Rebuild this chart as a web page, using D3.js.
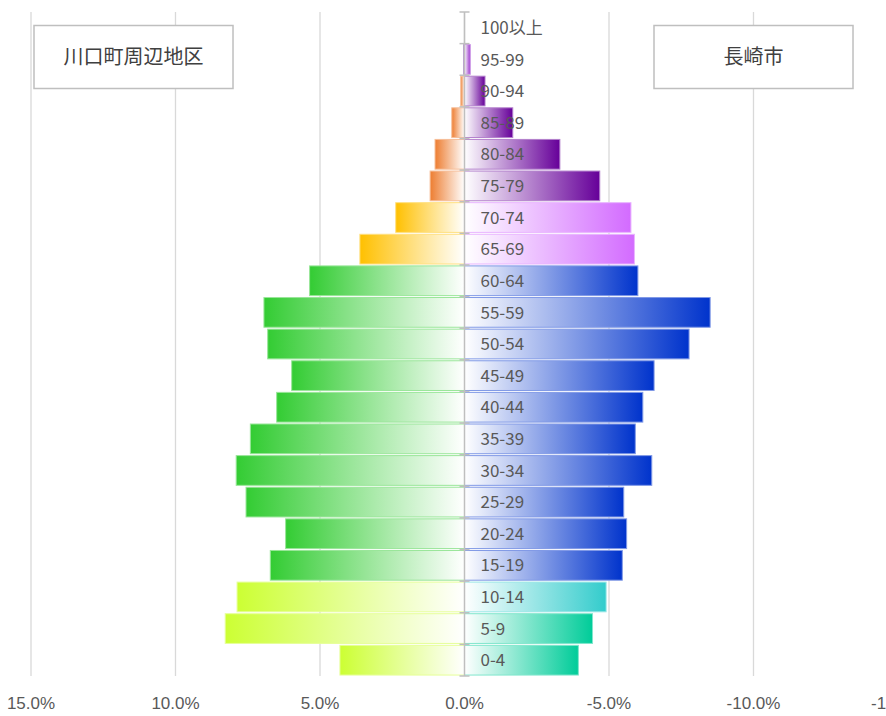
<!DOCTYPE html>
<html>
<head>
<meta charset="utf-8">
<script src="https://cdn.jsdelivr.net/npm/d3@7"></script>
<style>
	body { margin: 0; background: #fff; }
	svg { display: block; }
</style>
</head>
<body>
<div id="chart"></div>
<script>
// age groups, top to bottom
var ages = ['100以上', '95-99', '90-94', '85-89', '80-84', '75-79', '70-74', '65-69',
	'60-64', '55-59', '50-54', '45-49', '40-44', '35-39', '30-34', '25-29',
	'20-24', '15-19', '10-14', '5-9', '0-4'];

// share of population (%)
var kawaguchi = [0, 0.03, 0.13, 0.44, 1.02, 1.19, 2.38, 3.62,
	5.36, 6.94, 6.81, 5.98, 6.50, 7.41, 7.90, 7.56,
	6.19, 6.72, 7.87, 8.28, 4.31];
var nagasaki = [0, 0.2, 0.71, 1.67, 3.30, 4.68, 5.76, 5.88,
	6.0, 8.5, 7.77, 6.56, 6.17, 5.91, 6.48, 5.51,
	5.61, 5.46, 4.90, 4.43, 3.94];

var kawaguchiColors = ['#7030a0', '#7030a0', '#ed7d31', '#ed7d31', '#ed7d31', '#ed7d31', '#ffc000', '#ffc000',
	'#33cc33', '#33cc33', '#33cc33', '#33cc33', '#33cc33', '#33cc33', '#33cc33', '#33cc33',
	'#33cc33', '#33cc33', '#ccff33', '#ccff33', '#ccff33'];
var nagasakiColors = ['#660099', '#9933cc', '#660099', '#660099', '#660099', '#660099', '#d36bff', '#d36bff',
	'#0033cc', '#0033cc', '#0033cc', '#0033cc', '#0033cc', '#0033cc', '#0033cc', '#0033cc',
	'#0033cc', '#0033cc', '#33cccc', '#00cc99', '#00cc99'];

var ticks = [15, 10, 5, 0, -5, -10, -15];

var width = 886, height = 716;
var plotTop = 12, plotBottom = 676;

var svg = d3.select('#chart').append('svg')
	.attr('width', width)
	.attr('height', height);

var defs = svg.append('defs');

var x = d3.scaleLinear()
	.domain([15, -15])
	.range([31, 898]);

var y = d3.scaleBand()
	.domain(ages)
	.range([plotTop, plotBottom])
	.paddingInner(0.06)
	.paddingOuter(0.03);

// gridlines
svg.append('g')
	.selectAll('line')
	.data(ticks)
	.join('line')
	.attr('x1', function(d){ return x(d); })
	.attr('x2', function(d){ return x(d); })
	.attr('y1', plotTop)
	.attr('y2', plotBottom)
	.attr('stroke', '#d9d9d9')
	.attr('stroke-width', 1.3);

// one gradient per bar
function gradient(id, color, leftSide) {
	var g = defs.append('linearGradient')
		.attr('id', id)
		.attr('x1', 0).attr('x2', 1).attr('y1', 0).attr('y2', 0);
	g.append('stop').attr('offset', '0%')
		.attr('stop-color', leftSide ? color : '#fff');
	g.append('stop').attr('offset', '100%')
		.attr('stop-color', leftSide ? '#fff' : color);
}

function stroke(c) {
	return d3.interpolateRgb(c, '#fff')(0.5);
}

var bars = svg.append('g');

ages.forEach(function(a, i) {
	var lv = kawaguchi[i], rv = nagasaki[i];
	if (lv > 0) {
		gradient('gl' + i, kawaguchiColors[i], true);
		bars.append('rect')
			.attr('x', x(lv))
			.attr('y', y(a))
			.attr('width', x(0) - x(lv))
			.attr('height', y.bandwidth())
			.attr('fill', 'url(#gl' + i + ')')
			.attr('stroke', stroke(kawaguchiColors[i]))
			.attr('stroke-width', 1);
	}
	if (rv > 0) {
		gradient('gr' + i, nagasakiColors[i], false);
		bars.append('rect')
			.attr('x', x(0))
			.attr('y', y(a))
			.attr('width', x(-rv) - x(0))
			.attr('height', y.bandwidth())
			.attr('fill', 'url(#gr' + i + ')')
			.attr('stroke', stroke(nagasakiColors[i]))
			.attr('stroke-width', 1);
	}
});

// center category axis with cross ticks
var axis = svg.append('g').attr('stroke', '#bfbfbf').attr('stroke-width', 1.5);
axis.append('line')
	.attr('x1', x(0)).attr('x2', x(0))
	.attr('y1', plotTop).attr('y2', plotBottom);

var step = (plotBottom - plotTop) / ages.length;
axis.selectAll('.tick')
	.data(d3.range(ages.length + 1))
	.join('line')
	.attr('class', 'tick')
	.attr('x1', x(0) - 5).attr('x2', x(0) + 5)
	.attr('y1', function(d){ return plotTop + d * step; })
	.attr('y2', function(d){ return plotTop + d * step; });

// age labels
svg.append('g')
	.selectAll('text')
	.data(ages)
	.join('text')
	.attr('x', x(0) + 16)
	.attr('y', function(d){ return y(d) + y.bandwidth() / 2; })
	.attr('dy', '0.36em')
	.attr('fill', '#595959')
	.style('font-family', '"Liberation Sans Narrow", "Noto Sans CJK JP", sans-serif')
	.style('font-size', '17px')
	.text(function(d){ return d; });

// value axis labels
var fmt = d3.format('.1f');
svg.append('g')
	.selectAll('text')
	.data(ticks)
	.join('text')
	.attr('x', function(d){ return x(d); })
	.attr('y', 703)
	.attr('dy', '0.35em')
	.attr('text-anchor', 'middle')
	.attr('fill', '#595959')
	.style('font-family', '"Liberation Sans Narrow", sans-serif')
	.style('font-size', '17px')
	.text(function(d){ return fmt(d).replace('\u2212', '-') + '%'; });

// region title boxes
function titleBox(x0, label) {
	var g = svg.append('g');
	g.append('rect')
		.attr('x', x0).attr('y', 25.5)
		.attr('width', 199).attr('height', 63)
		.attr('fill', '#fff')
		.attr('stroke', '#bfbfbf')
		.attr('stroke-width', 1.5);
	g.append('text')
		.attr('x', x0 + 99.5).attr('y', 57)
		.attr('dy', '0.35em')
		.attr('text-anchor', 'middle')
		.attr('fill', '#404040')
		.style('font-family', '"Noto Sans CJK JP", sans-serif')
		.style('font-size', '20px')
		.text(label);
}
titleBox(34, '川口町周辺地区');
titleBox(654, '長崎市');
</script>
</body>
</html>
